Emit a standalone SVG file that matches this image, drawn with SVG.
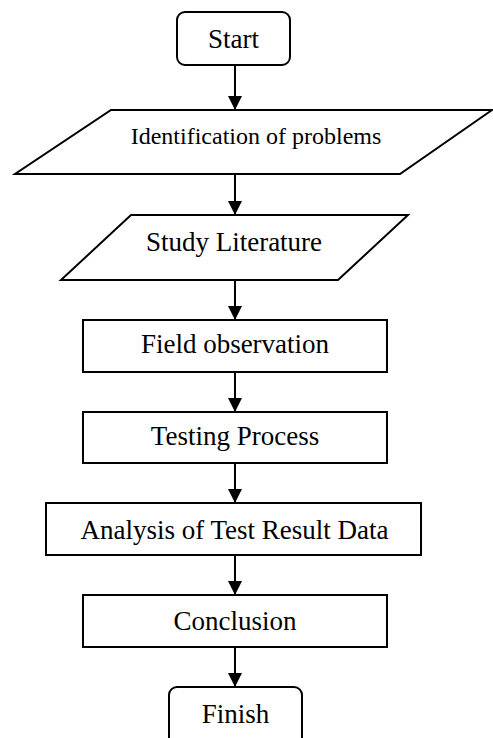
<svg xmlns="http://www.w3.org/2000/svg" width="493" height="738" viewBox="0 0 493 738">
<style>
.s{fill:#fff;stroke:#000;stroke-width:2}
.t{font-family:"Liberation Serif","Times New Roman",serif;font-size:27px;fill:#000;text-anchor:middle}
.c{stroke:#000;stroke-width:2;fill:none;marker-end:url(#ah)}
</style>
<defs>
<marker id="ah" markerUnits="userSpaceOnUse" markerWidth="16" markerHeight="14" refX="14" refY="7" orient="auto">
<path d="M0,0 L14,7 L0,14 Z" fill="#000"/>
</marker>
</defs>
<rect width="493" height="738" fill="#fff"/>
<g id="connectors">
<line class="c" x1="235" y1="65" x2="235" y2="110"/>
<line class="c" x1="235" y1="174" x2="235" y2="215"/>
<line class="c" x1="235" y1="280" x2="235" y2="320"/>
<line class="c" x1="235" y1="372" x2="235" y2="412"/>
<line class="c" x1="235" y1="463" x2="235" y2="503"/>
<line class="c" x1="235" y1="555" x2="235" y2="595"/>
<line class="c" x1="235" y1="647" x2="235" y2="687"/>
</g>
<g id="start">
<rect class="s" x="177" y="12" width="113" height="53" rx="8"/>
<text class="t" x="233.5" y="48">Start</text>
</g>
<g id="identification">
<polygon class="s" points="111,110 492,110 400,174 15,174"/>
<text class="t" x="256" y="144" style="font-size:24px">Identification of problems</text>
</g>
<g id="study">
<polygon class="s" points="131,215 408,215 338,280 61,280"/>
<text class="t" x="234" y="251">Study Literature</text>
</g>
<g id="field">
<rect class="s" x="83" y="320" width="304" height="52"/>
<text class="t" x="235" y="353">Field observation</text>
</g>
<g id="testing">
<rect class="s" x="83" y="412" width="304" height="51"/>
<text class="t" x="235" y="445">Testing Process</text>
</g>
<g id="analysis">
<rect class="s" x="46" y="503" width="375" height="52"/>
<text class="t" x="234.5" y="539">Analysis of Test Result Data</text>
</g>
<g id="conclusion">
<rect class="s" x="83" y="595" width="304" height="52"/>
<text class="t" x="235" y="630">Conclusion</text>
</g>
<g id="finish">
<rect class="s" x="169" y="687" width="133" height="65" rx="8"/>
<text class="t" x="235.5" y="723">Finish</text>
</g>
</svg>
